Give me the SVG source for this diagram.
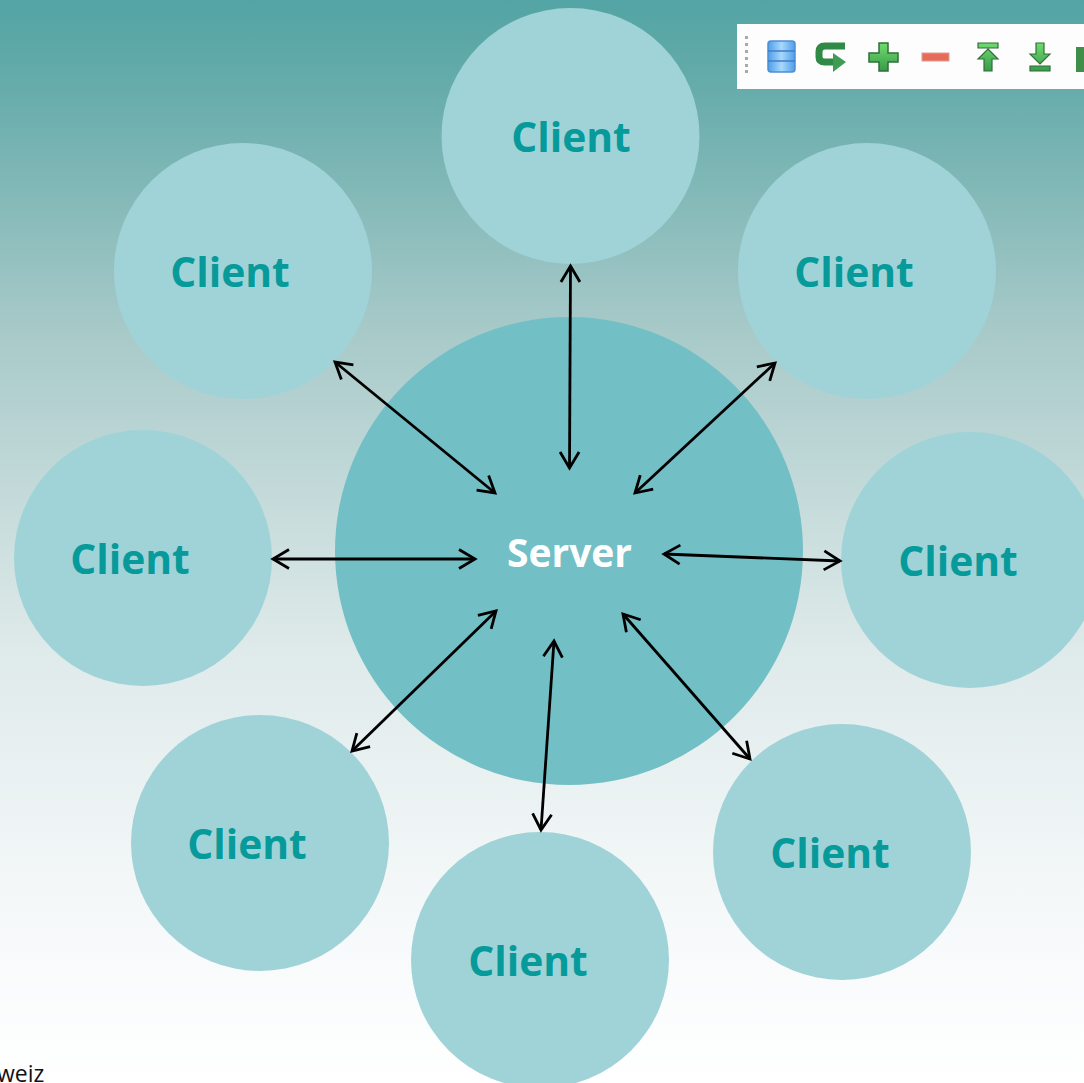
<svg xmlns="http://www.w3.org/2000/svg" width="1084" height="1083" viewBox="0 0 1084 1083">
<style>
.c{fill:#9fd3d8}
.t{font-family:"Open Sans","Noto Sans",sans-serif;font-weight:700;font-size:40.800px;fill:#069a9a;text-anchor:middle}
.l{stroke:#000;stroke-width:2.800;fill:none;marker-start:url(#a);marker-end:url(#a)}
</style>
<defs>
<linearGradient id="bg" x1="0" y1="0" x2="0" y2="1">
<stop offset="0" stop-color="#53a4a4"/><stop offset=".08" stop-color="#66acab"/><stop offset=".3" stop-color="#a6c9c8"/><stop offset=".6" stop-color="#dfeaea"/><stop offset=".85" stop-color="#f6f9fa"/><stop offset="1" stop-color="#fff"/>
</linearGradient>
<linearGradient id="db" x1="0" y1="0" x2="1" y2="0"><stop offset="0" stop-color="#4f9de8"/><stop offset=".5" stop-color="#a8d8fb"/><stop offset="1" stop-color="#4f9de8"/></linearGradient>
<linearGradient id="gr" x1="0" y1="0" x2="0" y2="1"><stop offset="0" stop-color="#6fdc6f"/><stop offset="1" stop-color="#3a9a4a"/></linearGradient>
<marker id="a" markerUnits="userSpaceOnUse" markerWidth="26" markerHeight="26" refX="20" refY="13" orient="auto-start-reverse" viewBox="0 0 26 26"><path d="M4 3.500L20 13L4 22.500" fill="none" stroke="#000" stroke-width="2.800"/></marker>
</defs>
<rect width="1084" height="1083" fill="url(#bg)"/>
<g id="server"><circle cx="569" cy="551" r="234" fill="#73bfc6"/><text x="569.500" y="567" class="t" style="fill:#fff;font-size:39px">Server</text></g>
<g id="client-top"><ellipse class="c" cx="570.500" cy="136" rx="129" ry="128"/><text class="t" x="571" y="152">Client</text></g>
<g id="client-top-left"><ellipse class="c" cx="243" cy="271" rx="129" ry="128"/><text class="t" x="230" y="287">Client</text></g>
<g id="client-top-right"><ellipse class="c" cx="867" cy="271" rx="129" ry="128"/><text class="t" x="854" y="287">Client</text></g>
<g id="client-left"><ellipse class="c" cx="143" cy="558" rx="129" ry="128"/><text class="t" x="130" y="574">Client</text></g>
<g id="client-right"><ellipse class="c" cx="970" cy="560" rx="129" ry="128"/><text class="t" x="958" y="576">Client</text></g>
<g id="client-bottom-left"><ellipse class="c" cx="260" cy="843" rx="129" ry="128"/><text class="t" x="247" y="859">Client</text></g>
<g id="client-bottom-right"><ellipse class="c" cx="842" cy="852" rx="129" ry="128"/><text class="t" x="830" y="868">Client</text></g>
<g id="client-bottom"><ellipse class="c" cx="540" cy="960" rx="129" ry="128"/><text class="t" x="528" y="976">Client</text></g>
<g id="connectors">
<line class="l" x1="570.500" y1="266" x2="569.500" y2="468"/>
<line class="l" x1="335" y1="362" x2="495" y2="493"/>
<line class="l" x1="775" y1="363" x2="635" y2="493"/>
<line class="l" x1="273" y1="559" x2="475" y2="559"/>
<line class="l" x1="664" y1="554" x2="840" y2="561"/>
<line class="l" x1="496" y1="611" x2="352" y2="751"/>
<line class="l" x1="623" y1="614" x2="750" y2="759"/>
<line class="l" x1="554" y1="641" x2="541" y2="830"/>
</g>
<g id="toolbar">
<rect x="737" y="24" width="347" height="65" fill="#fdfdfd"/>
<g fill="#a9a9a9"><rect x="745" y="36" width="3" height="3"/><rect x="745" y="43" width="3" height="3"/><rect x="745" y="50" width="3" height="3"/><rect x="745" y="57" width="3" height="3"/><rect x="745" y="64" width="3" height="3"/><rect x="745" y="70" width="3" height="3"/></g>
<rect x="768" y="41" width="27" height="31" rx="3" fill="url(#db)" stroke="#4c8fd8" stroke-width="1.500"/>
<path d="M768 51H795M768 61H795" stroke="#3f7fc8" stroke-width="1.500"/>
<path d="M845 46H825Q819 46 819 52V57Q819 62 825 62H836" fill="none" stroke="#2e8a45" stroke-width="7"/>
<path d="M833 53L846 62L833 72Z" fill="#3f9c55"/>
<path d="M879 43H888V53H898V62H888V71H879V62H869V53H879Z" fill="url(#gr)" stroke="#2f6f3a" stroke-width="1.500"/>
<rect x="922" y="53" width="27" height="8" fill="#e86a5a" stroke="#d9a08e" stroke-width="1"/>
<path d="M978 43H998V48H978ZM988 49L998 59H992V71H984V59H978Z" fill="url(#gr)" stroke="#2f6f3a" stroke-width="1.200"/>
<path d="M1036 43H1044V54H1050L1040 64L1030 54H1036ZM1030 66H1050V71H1030Z" fill="url(#gr)" stroke="#2f6f3a" stroke-width="1.200"/>
<path d="M1076 47H1084V72H1076Z" fill="#3f8f4a"/>
</g>
<text x="-3" y="1082" font-family="'Open Sans','Noto Sans',sans-serif" font-size="23" fill="#111">weiz</text>
</svg>
